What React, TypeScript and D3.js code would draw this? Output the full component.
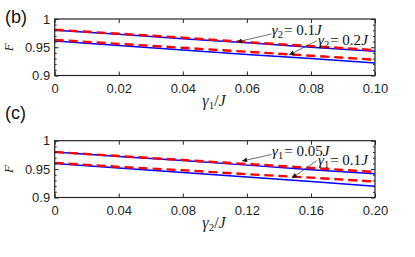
import * as d3 from 'd3';
import React, { useRef, useEffect } from 'react';

// panel (b): F vs gamma1/J
const gamma1 = [0, 0.02, 0.04, 0.06, 0.08, 0.1];
const bBlueHigh = [0.980, 0.973, 0.965, 0.958, 0.950, 0.943];
const bRedHigh = [0.981, 0.974, 0.967, 0.959, 0.952, 0.945];
const bBlueLow = [0.961, 0.953, 0.945, 0.937, 0.930, 0.922];
const bRedLow = [0.963, 0.956, 0.949, 0.942, 0.935, 0.928];

// panel (c): F vs gamma2/J
const gamma2 = [0, 0.04, 0.08, 0.12, 0.16, 0.2];
const cBlueHigh = [0.980, 0.972, 0.965, 0.957, 0.949, 0.942];
const cRedHigh = [0.980, 0.973, 0.966, 0.959, 0.952, 0.945];
const cBlueLow = [0.960, 0.952, 0.944, 0.936, 0.928, 0.920];
const cRedLow = [0.961, 0.954, 0.948, 0.941, 0.935, 0.928];

const bTicks = [0, 0.02, 0.04, 0.06, 0.08, 0.1];
const bTickLabels = ['0', '0.02', '0.04', '0.06', '0.08', '0.10'];
const cTicks = [0, 0.04, 0.08, 0.12, 0.16, 0.2];
const cTickLabels = ['0', '0.04', '0.08', '0.12', '0.16', '0.20'];
const yTicks = [0.9, 0.95, 1];
const yTickLabels = ['0.9', '0.95', '1'];
const yMinorTicks = [0.91, 0.92, 0.93, 0.94, 0.96, 0.97, 0.98, 0.99];

// annotations, positions in data coordinates
const bNotes = [
    { sub: '2', val: '0.1', text: [0.0678, 0.9717], tail: [0.0677, 0.9735], tip: [0.0569, 0.9593] },
    { sub: '2', val: '0.2', text: [0.0822, 0.954], tail: [0.0818, 0.9616], tip: [0.0732, 0.9363] },
];
const cNotes = [
    { sub: '1', val: '0.05', text: [0.1357, 0.9731], tail: [0.1354, 0.9757], tip: [0.1170, 0.9643] },
    { sub: '1', val: '0.1', text: [0.1644, 0.9572], tail: [0.1636, 0.9648], tip: [0.1482, 0.9343] },
];

const AXIS = '#262626';
const BLUE = '#0000ff';
const RED = '#ff0000';

function App() {
    const ref = useRef<SVGSVGElement>(null);

    useEffect(() => {
        const svg = d3.select(ref.current);
        svg.selectAll('*').remove();

        svg.append('defs').append('marker')
            .attr('id', 'arrowhead')
            .attr('viewBox', '0 0 10 10')
            .attr('refX', 10)
            .attr('refY', 5)
            .attr('markerUnits', 'userSpaceOnUse')
            .attr('markerWidth', 6)
            .attr('markerHeight', 5)
            .attr('orient', 'auto')
            .append('path')
            .attr('d', 'M0,0 L10,5 L0,10 z')
            .attr('fill', '#111');

        const left = 54.7, right = 375;

        function panel(top, bottom, xs, ticks, tickLabels, series, notes, xLabelSub, tag, tagY) {
            const x = d3.scaleLinear().domain([ticks[0], ticks[ticks.length - 1]]).range([left, right]);
            const y = d3.scaleLinear().domain([0.9, 1]).range([bottom, top]);

            const g = svg.append('g');

            const line = d3.line<number>()
                .x((d, i) => x(xs[i]))
                .y(d => y(d));

            series.forEach(s => {
                g.append('path')
                    .datum(s.values)
                    .attr('d', line)
                    .attr('fill', 'none')
                    .attr('stroke', s.color)
                    .attr('stroke-width', s.dashed ? 2.4 : 1.5)
                    .attr('stroke-dasharray', s.dashed ? '9,5' : null);
            });

            // axes, ticks pointing inward on all four sides
            g.append('g')
                .attr('transform', `translate(0,${bottom})`)
                .call(d3.axisBottom(x).tickValues(ticks).tickFormat((d, i) => tickLabels[i])
                    .tickSizeInner(-4).tickSizeOuter(0).tickPadding(8));
            g.append('g')
                .attr('transform', `translate(0,${top})`)
                .call(d3.axisTop(x).tickValues(ticks).tickFormat(() => '')
                    .tickSizeInner(-4).tickSizeOuter(0));
            g.append('g')
                .attr('transform', `translate(${left},0)`)
                .call(d3.axisLeft(y).tickValues(yTicks).tickFormat((d, i) => yTickLabels[i])
                    .tickSizeInner(-4).tickSizeOuter(0).tickPadding(4.5));
            g.append('g')
                .attr('transform', `translate(${left},0)`)
                .call(d3.axisLeft(y).tickValues(yMinorTicks).tickFormat(() => '')
                    .tickSizeInner(-2).tickSizeOuter(0));
            g.append('g')
                .attr('transform', `translate(${right},0)`)
                .call(d3.axisRight(y).tickValues(yTicks).tickFormat(() => '')
                    .tickSizeInner(-4).tickSizeOuter(0));
            g.append('g')
                .attr('transform', `translate(${right},0)`)
                .call(d3.axisRight(y).tickValues(yMinorTicks).tickFormat(() => '')
                    .tickSizeInner(-2).tickSizeOuter(0));

            g.selectAll('.domain').remove();
            g.selectAll('.tick line').attr('stroke', AXIS).attr('stroke-width', 1);
            g.selectAll('.tick text')
                .attr('fill', AXIS)
                .attr('font-family', 'Liberation Sans, Arial, sans-serif')
                .attr('font-size', 13);

            g.append('rect')
                .attr('x', left).attr('y', top)
                .attr('width', right - left).attr('height', bottom - top)
                .attr('fill', 'none')
                .attr('stroke', AXIS)
                .attr('stroke-width', 1.2);

            // annotations
            notes.forEach(n => {
                g.append('line')
                    .attr('x1', x(n.tail[0])).attr('y1', y(n.tail[1]))
                    .attr('x2', x(n.tip[0])).attr('y2', y(n.tip[1]))
                    .attr('stroke', '#333')
                    .attr('stroke-width', 0.7)
                    .attr('marker-end', 'url(#arrowhead)');
                const t = g.append('text')
                    .attr('x', x(n.text[0]))
                    .attr('y', y(n.text[1]))
                    .attr('font-family', 'Liberation Serif, Times New Roman, serif')
                    .attr('font-size', 15)
                    .attr('fill', '#111');
                t.append('tspan').attr('font-style', 'italic').text('γ');
                t.append('tspan').attr('font-size', 10.5).attr('dy', 3).text(n.sub);
                t.append('tspan').attr('dy', -3).attr('dx', 1).text('= ' + n.val);
                t.append('tspan').attr('font-style', 'italic').text('J');
            });

            // y label
            g.append('text')
                .attr('transform', `translate(13,${(top + bottom) / 2}) rotate(-90)`)
                .attr('text-anchor', 'middle')
                .attr('font-family', 'Liberation Serif, Times New Roman, serif')
                .attr('font-style', 'italic')
                .attr('font-size', 13)
                .attr('fill', AXIS)
                .text('F');

            // x label
            const xl = g.append('text')
                .attr('x', 214)
                .attr('y', bottom + 30)
                .attr('text-anchor', 'middle')
                .attr('font-family', 'Liberation Serif, Times New Roman, serif')
                .attr('font-size', 16)
                .attr('fill', AXIS);
            xl.append('tspan').attr('font-style', 'italic').text('γ');
            xl.append('tspan').attr('font-size', 11).attr('dy', 3).text(xLabelSub);
            xl.append('tspan').attr('dy', -3).text('/');
            xl.append('tspan').attr('font-style', 'italic').text('J');

            // panel tag
            svg.append('text')
                .attr('x', 5)
                .attr('y', tagY)
                .attr('font-family', 'Liberation Sans, Arial, sans-serif')
                .attr('font-size', 18)
                .attr('fill', '#111')
                .text(tag);
        }

        panel(19, 75.5, gamma1, bTicks, bTickLabels, [
            { values: bBlueHigh, color: BLUE, dashed: false },
            { values: bBlueLow, color: BLUE, dashed: false },
            { values: bRedHigh, color: RED, dashed: true },
            { values: bRedLow, color: RED, dashed: true },
        ], bNotes, '1', '(b)', 23);

        panel(140.7, 197.5, gamma2, cTicks, cTickLabels, [
            { values: cBlueHigh, color: BLUE, dashed: false },
            { values: cBlueLow, color: BLUE, dashed: false },
            { values: cRedHigh, color: RED, dashed: true },
            { values: cRedLow, color: RED, dashed: true },
        ], cNotes, '2', '(c)', 119);
    }, []);

    return (
        <svg ref={ref} width={415} height={257}
             style={{ position: 'absolute', left: 0, top: 0, background: '#fff' }} />
    );
}

export default App;
